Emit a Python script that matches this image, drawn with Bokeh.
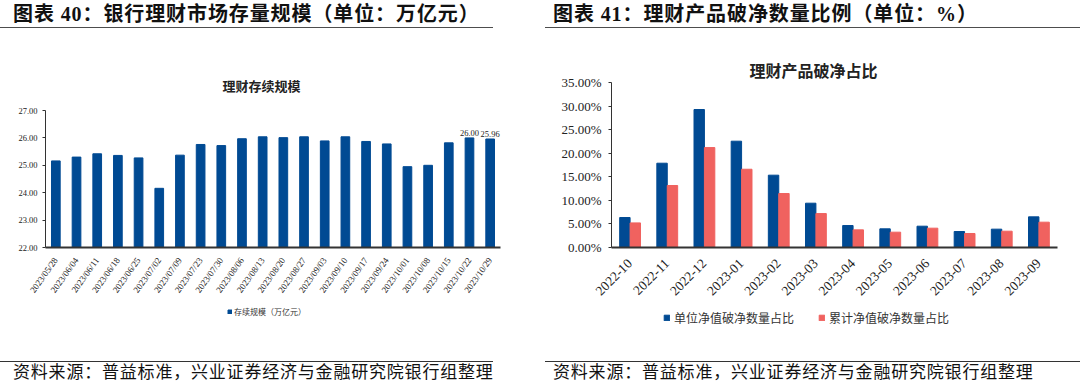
from math import pi
from bokeh.plotting import figure
from bokeh.models import (Range1d, FixedTicker, PrintfTickFormatter,
                          Legend, LegendItem, ColumnDataSource, Div)
from bokeh.layouts import row, column
from bokeh.transform import dodge
from bokeh.core.properties import value
from bokeh.embed import file_html
from bokeh.resources import INLINE

# ---------------- data ----------------
heading_left = "图表 40：银行理财市场存量规模（单位：万亿元）"
heading_right = "图表 41：理财产品破净数量比例（单位：%）"
title_left = "理财存续规模"
title_right = "理财产品破净占比"
source_text = "资料来源：普益标准，兴业证券经济与金融研究院银行组整理"

dates = ["2023/05/28", "2023/06/04", "2023/06/11", "2023/06/18", "2023/06/25",
         "2023/07/02", "2023/07/09", "2023/07/23", "2023/07/30", "2023/08/06",
         "2023/08/13", "2023/08/20", "2023/08/27", "2023/09/03", "2023/09/10",
         "2023/09/17", "2023/09/24", "2023/10/01", "2023/10/08", "2023/10/15",
         "2023/10/22", "2023/10/29"]
scale = [25.16, 25.30, 25.42, 25.36, 25.27, 24.16, 25.37, 25.76, 25.72, 25.97,
         26.04, 26.01, 26.04, 25.89, 26.04, 25.87, 25.78, 24.95, 25.00, 25.82,
         26.00, 25.96]
scale_label = "存续规模（万亿元）"
left_ticks = [22, 23, 24, 25, 26, 27]

months = ["2022-10", "2022-11", "2022-12", "2023-01", "2023-02", "2023-03",
          "2023-04", "2023-05", "2023-06", "2023-07", "2023-08", "2023-09"]
unit_nav = [6.36, 17.88, 29.27, 22.55, 15.34, 9.40, 4.66, 3.96, 4.52, 3.39, 3.89, 6.50]
cum_nav = [5.22, 13.15, 21.20, 16.60, 11.45, 7.20, 3.74, 3.25, 4.10, 2.97, 3.46, 5.37]
unit_label = "单位净值破净数量占比"
cum_label = "累计净值破净数量占比"
right_ticks = [0, 5, 10, 15, 20, 25, 30, 35]

BLUE = "#004A93"
RED = "#F0625F"
CJK = "Noto Sans CJK SC"
SERIF = "Liberation Serif"
FONT_CSS = "'Liberation Serif','Noto Sans CJK SC',serif"
W = 540


def head_div(text, tx, rx0, rx1):
    html = (
        f'<div style="position:relative;width:{W}px;height:40px;">'
        f'<div style="position:absolute;left:{tx}px;top:2px;font-family:{FONT_CSS};'
        f'font-weight:bold;font-size:20px;line-height:24px;letter-spacing:0.9px;'
        f'color:#111;white-space:nowrap;">{text}</div>'
        f'<div style="position:absolute;left:{rx0}px;top:27px;width:{rx1 - rx0}px;'
        f'height:0;border-top:1.5px solid #4d4d4d;"></div></div>')
    return Div(text=html, width=W, height=40, margin=(0, 0, 0, 0))


def src_div(text, tx, rx0, rx1):
    html = (
        f'<div style="position:relative;width:{W}px;height:40px;">'
        f'<div style="position:absolute;left:{rx0}px;top:11px;width:{rx1 - rx0}px;'
        f'height:0;border-top:1.3px solid #333;"></div>'
        f'<div style="position:absolute;left:{tx}px;top:12px;font-family:{FONT_CSS};'
        f'font-size:17px;line-height:21px;letter-spacing:0.8px;color:#111;white-space:nowrap;">{text}</div>'
        f'</div>')
    return Div(text=html, width=W, height=40, margin=(0, 0, 0, 0))


def style_axes(p, ysize, xsize, orient, xstand, ystand):
    p.grid.visible = False
    p.yaxis.major_label_text_font = SERIF
    p.yaxis.major_label_text_font_size = ysize
    p.yaxis.major_label_text_color = "#222222"
    p.yaxis.axis_line_color = "#333333"
    p.yaxis.major_tick_line_color = "#333333"
    p.yaxis.major_tick_out = 3
    p.yaxis.major_tick_in = 0
    p.yaxis.minor_tick_line_color = None
    p.yaxis.major_label_standoff = ystand
    p.yaxis.fixed_location = -0.5
    p.xaxis.axis_line_width = 2
    p.xaxis.axis_line_color = "#333333"
    p.xaxis.major_tick_line_color = None
    p.xaxis.minor_tick_line_color = None
    p.xaxis.major_label_orientation = orient
    p.xaxis.major_label_text_font = SERIF
    p.xaxis.major_label_text_font_size = xsize
    p.xaxis.major_label_text_color = "#222222"
    p.xaxis.major_label_standoff = xstand


# page px: figure spans y 40..350, frame 55..340, x axis drawn at y 247
FIG_TOP, FIG_H = 40, 310
FRAME_TOP, FRAME_BOT, AX = 55, 340, 247

# ---------------- left chart (figure x 0..540, plot area x 45..500) ----------------
l_ppu = 27.4
l_pxc = (500 - 45) / len(dates)
l_idx = list(range(len(dates)))
src_l = ColumnDataSource(dict(i=l_idx, v=scale))
pl = figure(width=W, height=FIG_H,
            x_range=Range1d(-0.5 - 45 / l_pxc, len(dates) - 0.5 + 40 / l_pxc),
            y_range=Range1d(22 - (FRAME_BOT - AX) / l_ppu, 22 + (AX - FRAME_TOP) / l_ppu),
            toolbar_location=None, output_backend="svg", min_border_left=0,
            min_border_right=0, min_border_top=FRAME_TOP - FIG_TOP,
            min_border_bottom=FIG_TOP + FIG_H - FRAME_BOT, outline_line_color=None)
rl = pl.vbar(x="i", top="v", bottom=22, width=0.42, source=src_l, color=BLUE)
lab_src = ColumnDataSource(dict(i=l_idx[-2:], v=scale[-2:],
                                t=[f"{x:.2f}" for x in scale[-2:]]))
pl.text(x="i", y="v", text="t", source=lab_src, text_align="center",
        text_baseline="bottom", y_offset=-2, text_font=value(SERIF),
        text_font_size="8.5px", text_color="#222222")
pl.text(x=[-0.5 + (261 - 45) / l_pxc], y=[22 + (AX - 85) / l_ppu], text=[title_left],
        text_align="center", text_baseline="middle",
        text_font=value(CJK), text_font_style="bold", text_font_size="13px",
        text_color="#222222")
style_axes(pl, "8.5px", "9px", 0.95, 5, 5)
pl.xaxis.fixed_location = 22
pl.xaxis.bounds = (-0.5, len(dates) - 0.5)
pl.xaxis.ticker = FixedTicker(ticks=l_idx)
pl.xaxis.major_label_overrides = {i: d for i, d in enumerate(dates)}
pl.yaxis.ticker = FixedTicker(ticks=left_ticks)
pl.yaxis.formatter = PrintfTickFormatter(format="%.2f")
pl.yaxis.bounds = (22, 27)
leg_l = Legend(items=[LegendItem(label=scale_label, renderers=[rl])],
               location=(227, FRAME_BOT - 317), orientation="horizontal", glyph_width=5,
               glyph_height=5, label_text_font=CJK, label_text_font_size="8px",
               label_text_color="#333333", label_standoff=2, border_line_color=None,
               background_fill_alpha=0, padding=0, margin=0)
pl.add_layout(leg_l, "center")

# ---------------- right chart (figure x 540..1080, plot area x 611..1057) ----------------
r_ppu = 4.714
r_pxc = (1057 - 611) / len(months)
r_idx = list(range(len(months)))
src_r = ColumnDataSource(dict(i=r_idx, a=unit_nav, b=cum_nav))
pr = figure(width=W, height=FIG_H,
            x_range=Range1d(-0.5 - (611 - 540) / r_pxc, len(months) - 0.5 + (1080 - 1057) / r_pxc),
            y_range=Range1d(-(FRAME_BOT - AX) / r_ppu, (AX - FRAME_TOP) / r_ppu),
            toolbar_location=None, output_backend="svg", min_border_left=0,
            min_border_right=0, min_border_top=FRAME_TOP - FIG_TOP,
            min_border_bottom=FIG_TOP + FIG_H - FRAME_BOT, outline_line_color=None)
ra = pr.vbar(x=dodge("i", -0.14), top="a", bottom=0, width=0.28,
             source=src_r, color=BLUE)
rb = pr.vbar(x=dodge("i", 0.14), top="b", bottom=0, width=0.28,
             source=src_r, color=RED)
pr.text(x=[-0.5 + (813 - 611) / r_pxc], y=[(AX - 69) / r_ppu], text=[title_right],
        text_align="center", text_baseline="middle",
        text_font=value(CJK), text_font_style="bold", text_font_size="16px",
        text_color="#222222")
style_axes(pr, "13px", "13.5px", pi / 4, 8, 7)
pr.xaxis.fixed_location = 0
pr.xaxis.bounds = (-0.5, len(months) - 0.5)
pr.xaxis.ticker = FixedTicker(ticks=r_idx)
pr.xaxis.major_label_overrides = {i: m for i, m in enumerate(months)}
pr.yaxis.ticker = FixedTicker(ticks=right_ticks)
pr.yaxis.formatter = PrintfTickFormatter(format="%.2f%%")
pr.yaxis.bounds = (0, 35)
leg_r = Legend(items=[LegendItem(label=unit_label, renderers=[ra]),
                      LegendItem(label=cum_label, renderers=[rb])],
               location=(663 - 540, FRAME_BOT - 326), orientation="horizontal",
               glyph_width=7, glyph_height=7, label_text_font=CJK,
               label_text_font_size="12px", label_text_color="#333333",
               label_standoff=4, spacing=24, border_line_color=None,
               background_fill_alpha=0, padding=0, margin=0)
pr.add_layout(leg_r, "center")

layout = row(
    column(head_div(heading_left, 13, 0, 493), pl, src_div(source_text, 13, 0, 493)),
    column(head_div(heading_right, 13, 5, 540), pr, src_div(source_text, 13, 5, 540)),
)
open("out.html", "w").write(file_html(layout, INLINE))
